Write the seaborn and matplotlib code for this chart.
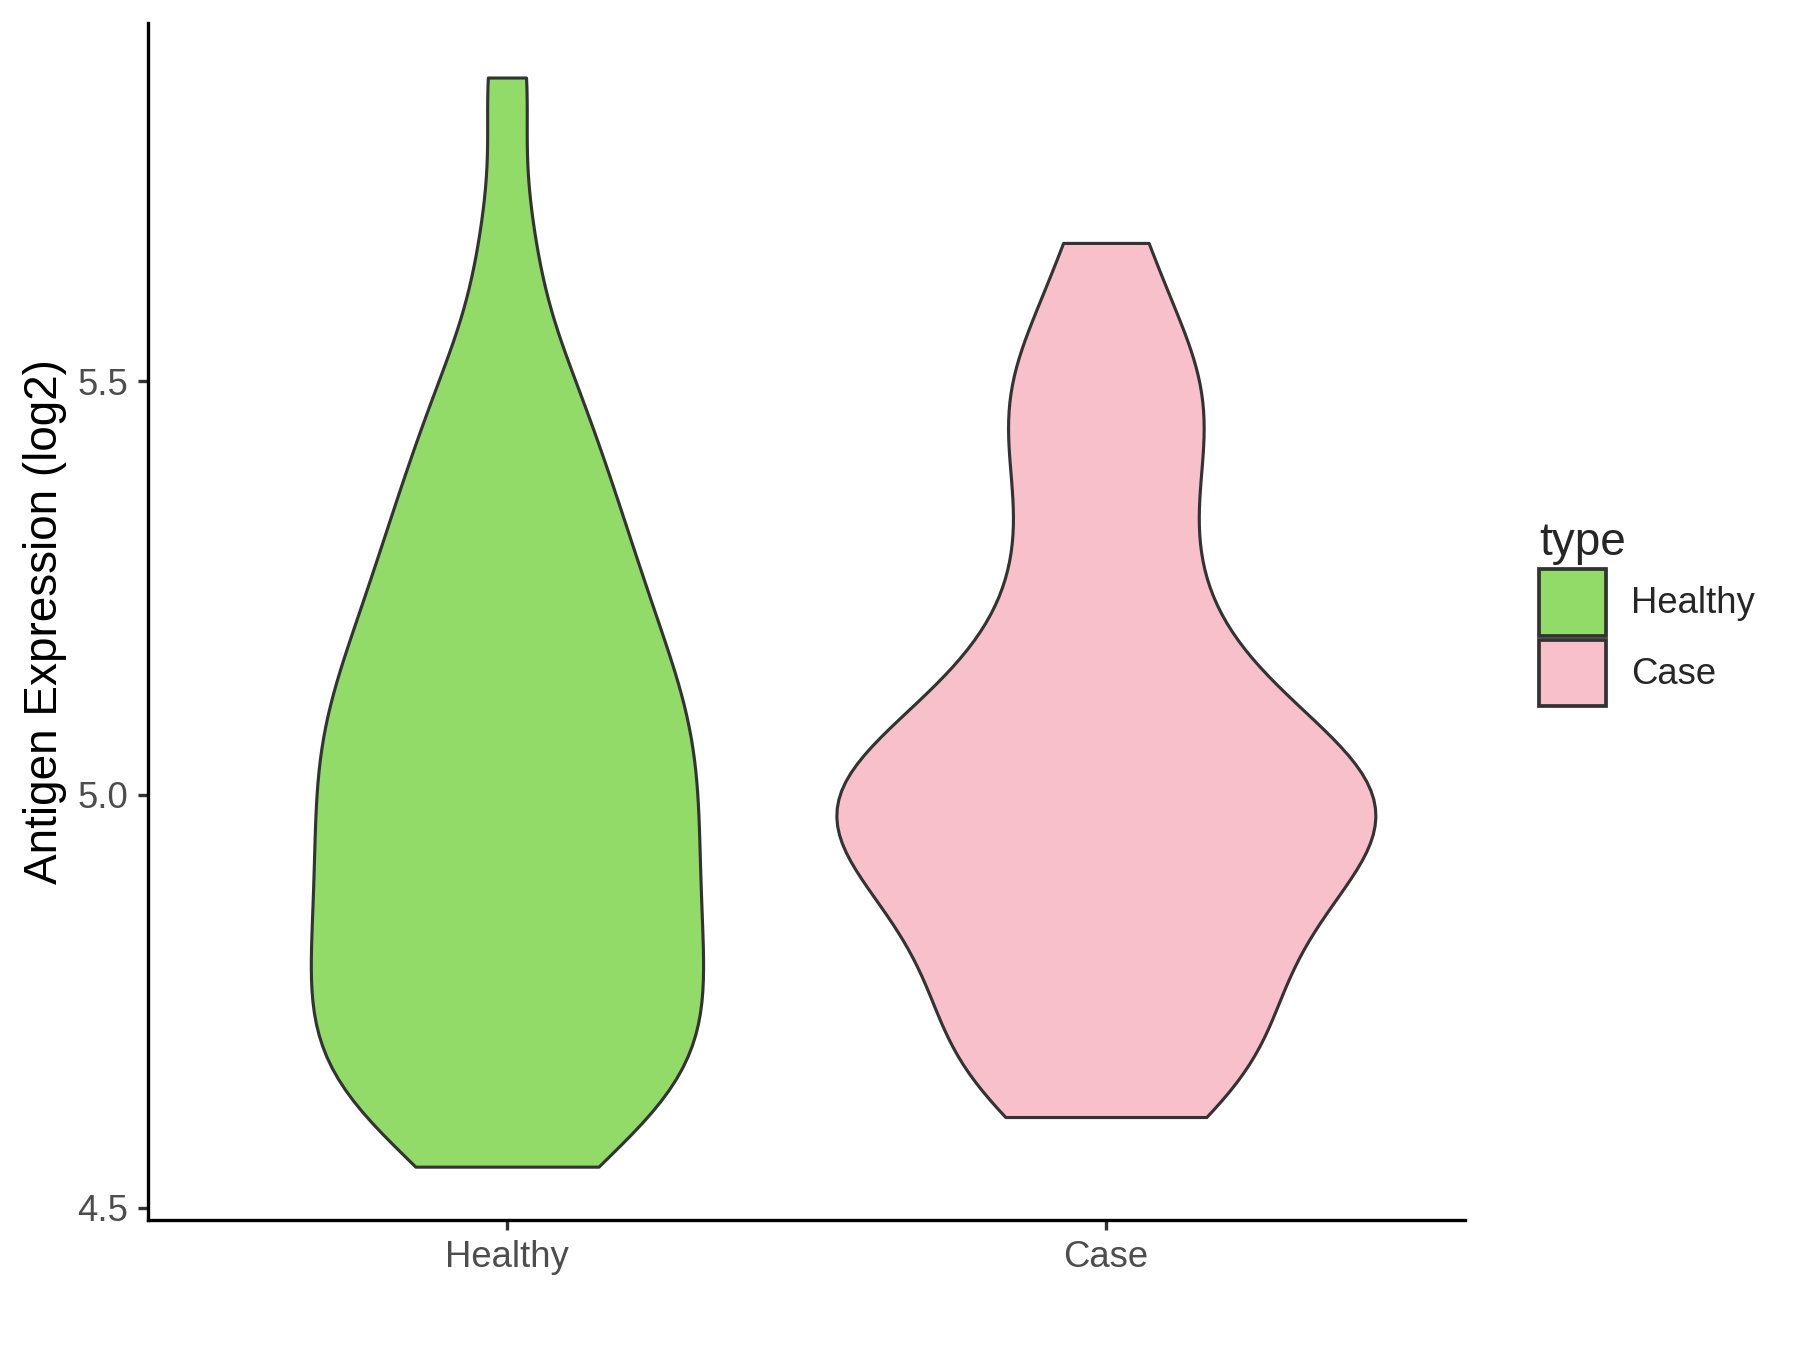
import matplotlib
matplotlib.use("Agg")
import matplotlib.pyplot as plt
import numpy as np
import pandas as pd
import seaborn as sns
from matplotlib.patches import Patch

GROUPS = ["Healthy", "Case"]
COLORS = ["#93DB69", "#F8C0CB"]

healthy_values = [
    4.55, 4.58, 4.605, 4.63, 4.65, 4.665, 4.685, 4.705, 4.725, 4.745,
    4.76, 4.78, 4.80, 4.82, 4.84, 4.86, 4.88, 4.90, 4.92, 4.94, 4.96, 4.98,
    5.00, 5.02, 5.04, 5.06, 5.08, 5.10, 5.12, 5.14, 5.165, 5.19, 5.215, 5.24,
    5.27, 5.30, 5.33, 5.365, 5.40, 5.445, 5.49, 5.55, 5.675, 5.867,
]
case_values = [
    4.61, 4.64, 4.67, 4.70, 4.735, 4.77, 4.80, 4.83, 4.86, 4.885, 4.91,
    4.93, 4.95, 4.965, 4.98, 4.995, 5.01, 5.025, 5.045, 5.07, 5.095, 5.125,
    5.17, 5.22, 5.28, 5.35, 5.41, 5.46, 5.51, 5.555, 5.667,
]

Y_TICKS = [4.5, 5.0, 5.5]
Y_LABEL = "Antigen Expression (log2)"
LEGEND_TITLE = "type"
BANDWIDTH = 0.088  # kernel width in data units, same for both groups


def fixed_bandwidth(kde):
    """Return the kde factor that gives a kernel sd of BANDWIDTH."""
    return BANDWIDTH / np.std(kde.dataset[0], ddof=1)


df = pd.DataFrame({
    "type": ["Healthy"] * len(healthy_values) + ["Case"] * len(case_values),
    "value": healthy_values + case_values,
})
palette = dict(zip(GROUPS, COLORS))

sns.set_style("white")
plt.rcParams["font.family"] = ["Liberation Sans", "DejaVu Sans"]

fig = plt.figure(figsize=(12, 9), dpi=150)
ax = fig.add_axes([0.082, 0.096, 0.732, 0.887])

sns.violinplot(
    data=df,
    x="type",
    y="value",
    hue="type",
    order=GROUPS,
    hue_order=GROUPS,
    palette=palette,
    saturation=1,
    cut=0,
    bw_method=fixed_bandwidth,
    density_norm="area",
    common_norm=True,
    width=0.9,
    inner=None,
    linewidth=1.5,
    linecolor="#333333",
    legend=False,
    ax=ax,
)

ax.set_xlim(-0.6, 1.6)
ax.set_ylim(4.485, 5.933)
ax.set_yticks(Y_TICKS)
ax.set_yticklabels([f"{t:.1f}" for t in Y_TICKS])
ax.set_xlabel("")
ax.set_ylabel(Y_LABEL, fontsize=22, color="black", labelpad=5)

for side in ("top", "right"):
    ax.spines[side].set_visible(False)
for side in ("left", "bottom"):
    ax.spines[side].set_color("black")
    ax.spines[side].set_linewidth(1.6)

ax.tick_params(axis="both", which="major", direction="out", length=4.8, width=1.6,
               color="#333333", labelcolor="#4D4D4D", labelsize=17.5, pad=4.5,
               left=True, bottom=True)

handles = [Patch(facecolor=c, edgecolor="#333333", linewidth=1.8) for c in COLORS]
leg = fig.legend(
    handles,
    GROUPS,
    title=LEGEND_TITLE,
    loc="upper left",
    bbox_to_anchor=(0.847, 0.625),
    frameon=False,
    fontsize=17.5,
    title_fontsize=22,
    handlelength=1.83,
    handleheight=2.44,
    labelspacing=0.11,
    handletextpad=0.69,
    borderaxespad=0.0,
    alignment="left",
)

fig.savefig("out.png", dpi=150)
